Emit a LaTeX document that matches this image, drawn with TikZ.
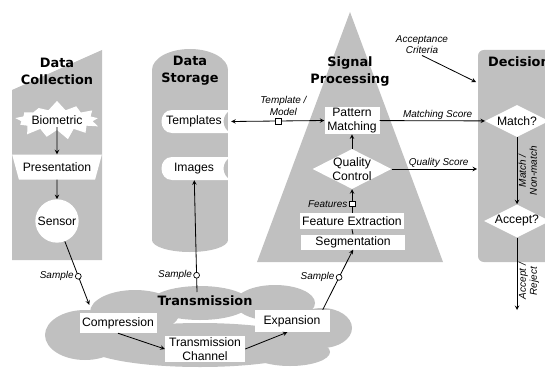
\documentclass[tikz,border=0pt]{standalone}
\usepackage{fontspec}
\setmainfont{Liberation Sans}
\newfontfamily\headfont{DejaVu Sans}
\usetikzlibrary{shapes.geometric,shapes.symbols,positioning}
\definecolor{panelgray}{RGB}{192,192,192}

\tikzstyle{textonly}=[align=center, font=\fontsize{10.4}{12}\selectfont]
\tikzstyle{box}=[textonly, rectangle, fill=white, inner sep=1pt]
\tikzstyle{choice}=[textonly, diamond, fill=white, aspect=2, inner sep=0pt]
\tikzstyle{heading}=[align=center, font=\headfont\bfseries\fontsize{11}{14.5}\selectfont]
\tikzstyle{note}=[align=center, font=\itshape\fontsize{8.5}{9.5}\selectfont, inner sep=1pt]
\tikzstyle{flow}=[->, >=stealth, line width=0.7pt]
\tikzstyle{samplemark}=[circle, draw, fill=white, line width=0.6pt, inner sep=0pt, minimum size=5pt]
\tikzstyle{datamark}=[rectangle, draw, fill=white, line width=0.6pt, inner sep=0pt, minimum size=5pt]
\tikzstyle{panel}=[fill=panelgray]

\begin{document}
\begin{tikzpicture}[x=0.03cm, y=-0.03cm]
  \clip (0,0) rectangle (545,367);

  % Panels
  \fill[panel] (12,90) -- (102,50) -- (102,260) -- (12,260) -- cycle;
  \fill[panel] (190,70) ellipse [x radius=38, y radius=21];
  \fill[panel] (152,70) rectangle (228,240);
  \fill[panel] (190,240) ellipse [x radius=38, y radius=12];
  \fill[panel] (350,12) -- (443,262) -- (257,262) -- cycle;
  \fill[panel, rounded corners=5pt] (478,50) rectangle (580,262);
  % Cloud
  \fill[panel] (85,335) ellipse [x radius=40, y radius=25];
  \fill[panel] (135,312) ellipse [x radius=45, y radius=22];
  \fill[panel] (200,303) ellipse [x radius=50, y radius=17];
  \fill[panel] (275,303) ellipse [x radius=40, y radius=18];
  \fill[panel] (322,328) ellipse [x radius=30, y radius=20];
  \fill[panel] (200,345) ellipse [x radius=115, y radius=22];
  \fill[panel] (290,352) ellipse [x radius=40, y radius=14];
  % Stored data
  \fill[white] (231,110) -- (172,110) .. controls (158,110) and (158,133) .. (172,133)
    -- (231,133) .. controls (221,129) and (221,114) .. (231,110) -- cycle;
  \fill[white] (231,157) -- (172,157) .. controls (158,157) and (158,180) .. (172,180)
    -- (231,180) .. controls (221,176) and (221,161) .. (231,157) -- cycle;

  % Data collection
  \node (colltitle) [heading] at (57,71) {Data\\Collection};
  \node (bio) [textonly, starburst, fill=white, starburst points=13, starburst point height=0.3cm,
    random starburst=7, minimum width=2.55cm, minimum height=1.2cm, inner sep=0pt] at (57,120) {Biometric};
  \node (pres) [textonly, trapezium, shape border rotate=180, trapezium stretches=true,
    trapezium angle=68, fill=white, minimum width=2.55cm, minimum height=0.75cm] at (57,167) {Presentation};
  \node (sensor) [textonly, circle, fill=white, minimum size=1.3cm, inner sep=0pt] at (57,221) {Sensor};

  % Data storage
  \node (stortitle) [heading] at (190,71) {Data\\Storage};
  \node (tmpl) [textonly, minimum width=2.22cm, minimum height=0.69cm] at (194,121.5) {Templates};
  \node (imgs) [textonly, minimum width=2.22cm, minimum height=0.69cm] at (194,168.5) {Images};

  % Signal processing
  \node (sigtitle) [heading] at (350,71) {Signal\\Processing};
  \node (pm) [box, minimum width=1.65cm, minimum height=0.75cm] at (352,120.5) {Pattern\\Matching};
  \node (qc) [choice, inner sep=-5pt, minimum width=2.37cm, minimum height=1.2cm] at (352,169) {Quality\\Control};
  \node (fe) [box, minimum width=3.12cm, minimum height=0.48cm] at (352,221) {Feature Extraction};
  \node (seg) [box, minimum width=3.12cm, minimum height=0.45cm] at (353,242) {Segmentation};

  % Decision
  \node (dectitle) [heading, anchor=west] at (484,62) {Decision};
  \node (match) [choice, minimum width=1.92cm, minimum height=0.96cm] at (517,121) {Match?};
  \node (accept) [choice, minimum width=1.92cm, minimum height=0.96cm] at (517,221) {Accept?};
  \node (acc) [note] at (422,45) {Acceptance\\Criteria};
  \coordinate (acctip) at (476,82);
  \coordinate (qsend) at (477,169);
  \coordinate (verdict) at (517,310);

  % Transmission
  \node (transtitle) [heading] at (205,301) {Transmission};
  \node (comp) [box, minimum width=2.31cm, minimum height=0.6cm] at (118,323) {Compression};
  \node (chan) [box, minimum width=2.4cm, minimum height=0.72cm] at (205,349) {Transmission\\Channel};
  \node (exp) [box, minimum width=2.25cm, minimum height=0.66cm] at (292,321) {Expansion};
  \coordinate (cloudtop) at (197,292);

  % Arrows
  \draw[flow] ([yshift=-6pt]bio.center) -- (pres);
  \draw[flow] (pres) -- (sensor);
  \draw[flow] (sensor) -- node[samplemark, pos=0.55](smp1){} ([shift={(10,-8)}]comp.north west);
  \node[note, left=0pt of smp1] {Sample};
  \draw[flow] (cloudtop) -- node[samplemark, pos=0.15](smp2){} (imgs);
  \node[note, left=0pt of smp2] {Sample};
  \draw[flow] ([xshift=-6pt]exp.north east) -- node[samplemark, pos=0.54](smp3){} (seg.south);
  \node[note, left=0pt of smp3] {Sample};
  \draw[flow] (comp.south) -- (chan.west);
  \draw[flow] (chan.east) -- ([xshift=-4pt]exp.south);

  \draw[line width=0.7pt] (seg.north) -- (fe.south);
  \draw[flow] (fe.north) -- node[datamark, pos=0.38](feat){} (qc.south);
  \node[note, left=0pt of feat] {Features};
  \draw[flow] (qc) -- (pm);
  \draw[<->, >=stealth, line width=0.7pt] (pm.west) -- node[datamark, pos=0.49](tm){} (tmpl.east);
  \node[note, above=1pt of tm, xshift=4pt] {Template /\\Model};

  \draw[flow] (pm) -- node[note, above, pos=0.55] {Matching Score} (match);
  \draw[flow] (qc) -- node[note, above, pos=0.55] {Quality Score} (qsend);
  \draw[flow] (acc.south) -- (acctip);
  \draw[flow] (match) -- node[note, midway, anchor=north, rotate=90] {Match /\\Non-match} (accept);
  \draw[flow] (accept) -- node[note, pos=0.6, anchor=north, rotate=90] {Accept /\\Reject} (verdict);
\end{tikzpicture}
\end{document}
